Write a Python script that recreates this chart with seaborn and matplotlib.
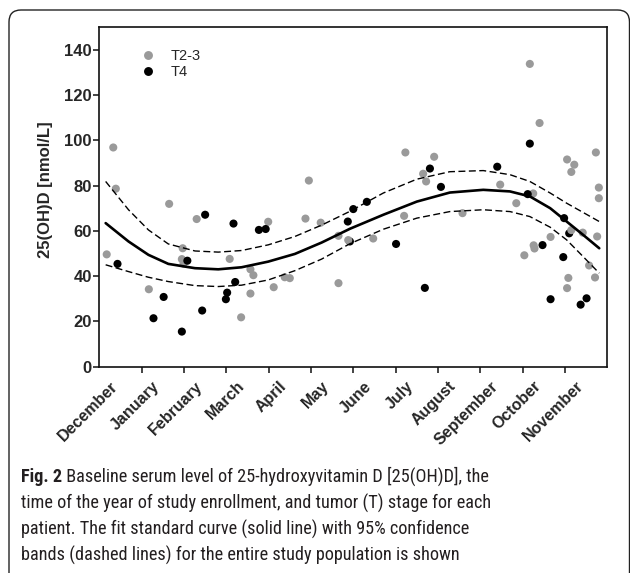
import numpy as np
import pandas as pd
import matplotlib
matplotlib.use("Agg")
import matplotlib.pyplot as plt
import seaborn as sns
from matplotlib import font_manager as fm
from matplotlib.patches import FancyBboxPatch
from matplotlib.transforms import IdentityTransform

# ---------------- data ----------------
months = ["December", "January", "February", "March", "April", "May", "June",
          "July", "August", "September", "October", "November"]

t23_x = [0.175, 0.33, 0.39, 1.17, 1.65, 2.30, 1.97, 1.95, 1.99, 3.08, 3.57, 3.64,
         3.57, 3.35, 3.99, 4.12, 4.38, 4.50, 4.87, 4.95, 5.23, 5.65, 5.65, 5.88,
         6.47, 7.20, 7.23, 7.65, 7.72, 7.91, 8.58, 9.47, 9.85, 10.04, 10.17, 10.25,
         10.26, 10.28, 10.40, 10.66, 11.05, 11.15, 11.22, 11.15, 11.08, 11.05,
         11.42, 11.57, 11.71, 11.73, 11.80, 11.80, 11.76]
t23_y = [49.6, 96.8, 78.6, 34.2, 71.9, 65.2, 52.3, 47.5, 45.5, 47.6, 43.0, 40.4,
         32.3, 21.8, 64.0, 35.1, 39.5, 39.1, 65.4, 82.2, 63.6, 57.8, 36.9, 55.9,
         56.6, 66.6, 94.6, 85.2, 81.8, 92.7, 67.8, 80.4, 72.2, 49.2, 133.7, 76.5,
         53.6, 52.2, 107.6, 57.3, 91.5, 86.0, 89.2, 60.3, 39.2, 34.7,
         59.2, 44.7, 39.4, 94.6, 79.1, 74.4, 57.5]

t4_x = [5.92, 11.10, 0.43, 1.28, 1.52, 1.95, 2.08, 2.43, 2.50, 2.99, 3.02, 3.17,
        3.21, 3.77, 3.93, 5.87, 6.00, 6.32, 7.01, 7.69, 7.81, 8.07, 9.40, 10.12,
        10.17, 10.47, 10.66, 10.96, 10.98, 11.37, 11.51]
t4_y = [55.3, 58.9, 45.4, 21.4, 30.8, 15.5, 46.8, 24.8, 67.1, 29.8, 32.7, 63.2,
        37.4, 60.4, 60.8, 64.1, 69.6, 72.8, 54.2, 34.8, 87.5, 79.4, 88.3, 76.2,
        98.5, 53.7, 29.8, 48.4, 65.6, 27.4, 30.2]

fit_x = [0.15, 0.69, 1.16, 1.63, 2.26, 2.81, 3.36, 3.99, 4.62, 5.25, 5.92, 6.71,
         7.50, 8.28, 9.07, 9.70, 10.17, 10.65, 11.04, 11.43, 11.81]
fit_y = [63.4, 55.3, 49.4, 45.4, 43.5, 43.0, 43.9, 46.4, 49.8, 54.8, 60.9, 67.1,
         72.9, 76.9, 78.1, 77.4, 75.2, 70.0, 64.1, 58.2, 52.3]
upper_y = [81.8, 69.3, 60.4, 54.2, 51.1, 50.6, 51.3, 53.8, 57.5, 62.5, 68.6, 76.7,
           82.8, 86.1, 86.6, 84.8, 81.8, 76.7, 72.2, 68.1, 64.1]
lower_y = [45.0, 42.0, 39.5, 37.6, 35.8, 35.4, 36.0, 38.3, 42.4, 47.5, 54.3, 60.7,
           65.6, 68.5, 69.3, 68.5, 66.3, 61.6, 56.0, 48.6, 41.3]

yticks = [0, 20, 40, 60, 80, 100, 120, 140]

caption_bold = "Fig. 2"
caption_lines = [
    " Baseline serum level of 25-hydroxyvitamin D [25(OH)D], the",
    "time of the year of study enrollment, and tumor (T) stage for each",
    "patient. The fit standard curve (solid line) with 95% confidence",
    "bands (dashed lines) for the entire study population is shown",
]

# ---------------- style ----------------
sns.set_theme(style="ticks")
plt.rcParams["font.family"] = ["Liberation Sans", "DejaVu Sans"]

W, H = 630, 573
fig = plt.figure(figsize=(W / 100, H / 100), dpi=100)
fig.patch.set_facecolor("white")

ax_l, ax_r, ax_t, ax_b = 99.3, 607.3, 27.0, 366.7
ax = fig.add_axes([ax_l / W, 1 - ax_b / H, (ax_r - ax_l) / W, (ax_b - ax_t) / H])

# order rows so that the two partly hidden T4 points sit below the grey ones
n_under = 2
df = pd.concat([
    pd.DataFrame({"month": t4_x[:n_under], "value": t4_y[:n_under], "stage": "T4"}),
    pd.DataFrame({"month": t23_x, "value": t23_y, "stage": "T2-3"}),
    pd.DataFrame({"month": t4_x[n_under:], "value": t4_y[n_under:], "stage": "T4"}),
], ignore_index=True)

palette = {"T2-3": "#9a9a9a", "T4": "#000000"}
sns.scatterplot(data=df, x="month", y="value", hue="stage", hue_order=["T2-3", "T4"],
                palette=palette, s=34, linewidth=0, ax=ax, zorder=3)

sns.lineplot(x=fit_x, y=fit_y, ax=ax, color="black", lw=1.9, estimator=None,
             sort=False, zorder=4)
sns.lineplot(x=fit_x, y=upper_y, ax=ax, color="black", lw=1.0, estimator=None,
             sort=False, zorder=4, dashes=False, linestyle=(0, (5, 2.5)))
sns.lineplot(x=fit_x, y=lower_y, ax=ax, color="black", lw=1.0, estimator=None,
             sort=False, zorder=4, dashes=False, linestyle=(0, (5, 2.5)))

ax.set_xlim(0, 12)
ax.set_ylim(0, 150)
ax.set_yticks(yticks)
ax.set_yticklabels([str(v) for v in yticks], fontsize=12, fontweight="bold")
ax.set_xticks(range(1, 12))
ax.set_xticklabels([])
ax.set_xticks(np.arange(0.5, 12, 1), minor=True)
ax.set_xticklabels(months, minor=True, rotation=45, ha="right",
                   fontsize=11.5, fontweight="bold")
ax.tick_params(axis="x", which="minor", length=0, pad=8.5)
ax.tick_params(axis="both", which="major", direction="out", length=4,
               width=1.1, color="#111111", pad=1.5)
ax.set_xlabel("")
ax.set_ylabel("25(OH)D [nmol/L]", fontsize=12, fontweight="bold")
ax.yaxis.set_label_coords(-0.092, 0.52)
for sp in ax.spines.values():
    sp.set_visible(True)
    sp.set_linewidth(1.2)
    sp.set_color("#111111")

handles, labels = ax.get_legend_handles_labels()
ax.legend(handles, labels, loc="upper left", bbox_to_anchor=(0.0807, 0.936),
          frameon=False, fontsize=10.5, handlelength=1.0, handletextpad=1.1,
          labelspacing=0.15, borderpad=0, borderaxespad=0, markerscale=1.1)

# ---------------- frame box ----------------
box = FancyBboxPatch((9, -30), 620.5, (H - 10) + 30,
                     boxstyle="round,pad=0,rounding_size=12",
                     transform=IdentityTransform(), fill=False,
                     edgecolor="#222222", linewidth=1.0, zorder=0)
fig.patches.append(box)

# ---------------- caption font: prefer an installed condensed/narrow sans ----------------
def _is_narrow(f):
    n = (f.name + " " + f.fname).lower()
    st = f.stretch
    narrow_stretch = (isinstance(st, str) and "condensed" in st) or \
                     (isinstance(st, (int, float)) and st < 500)
    return ("narrow" in n or "condensed" in n or narrow_stretch) and "mono" not in n \
        and "serif" not in n.replace("sans-serif", "") and "italic" not in n \
        and "oblique" not in n

def _w(f):
    w = f.weight
    if isinstance(w, str):
        return {"normal": 400, "regular": 400, "bold": 700, "book": 400,
                "medium": 500}.get(w, 400)
    return w

narrow = [f for f in fm.fontManager.ttflist if _is_narrow(f) and f.style == "normal"]
reg_props, bold_props = None, None
for pref in ["Liberation Sans Narrow", "Open Sans", "Roboto", "Noto Sans",
             "DejaVu Sans", "Lato", "Inter"]:
    fam = [f for f in narrow if f.name.startswith(pref)]
    regs = [f for f in fam if 350 <= _w(f) <= 450]
    bolds = [f for f in fam if 600 <= _w(f) <= 750]
    if regs:
        reg_props = fm.FontProperties(fname=regs[0].fname)
        bold_props = fm.FontProperties(fname=(bolds[0].fname if bolds else regs[0].fname))
        if not bolds:
            bold_props.set_weight("bold")
        break
if reg_props is None:
    reg_props = fm.FontProperties(family=["Open Sans", "DejaVu Sans"])
    bold_props = fm.FontProperties(family=["Open Sans", "DejaVu Sans"], weight="bold")

cap_color = "#231f20"
line_ys = [476.7, 503.0, 529.3, 555.3]
x0 = 21.0
target_w = 470.0
renderer = fig.canvas.get_renderer()
probe = fig.text(x0 / W, 1 - line_ys[1] / H, caption_lines[1], fontproperties=reg_props)
probe.set_fontsize(12)
w = probe.get_window_extent(renderer).width
probe.remove()
cap_fs = min(12 * target_w / w, 13.4)

t_b = fig.text(x0 / W, 1 - line_ys[0] / H, caption_bold, fontproperties=bold_props,
               va="center", color=cap_color)
t_b.set_fontsize(cap_fs)
bw = t_b.get_window_extent(renderer).width
t0 = fig.text((x0 + bw) / W, 1 - line_ys[0] / H, caption_lines[0],
              fontproperties=reg_props, va="center", color=cap_color)
t0.set_fontsize(cap_fs)
for txt, yy in zip(caption_lines[1:], line_ys[1:]):
    t = fig.text(x0 / W, 1 - yy / H, txt, fontproperties=reg_props,
                 va="center", color=cap_color)
    t.set_fontsize(cap_fs)

fig.savefig("out.png", dpi=100)
